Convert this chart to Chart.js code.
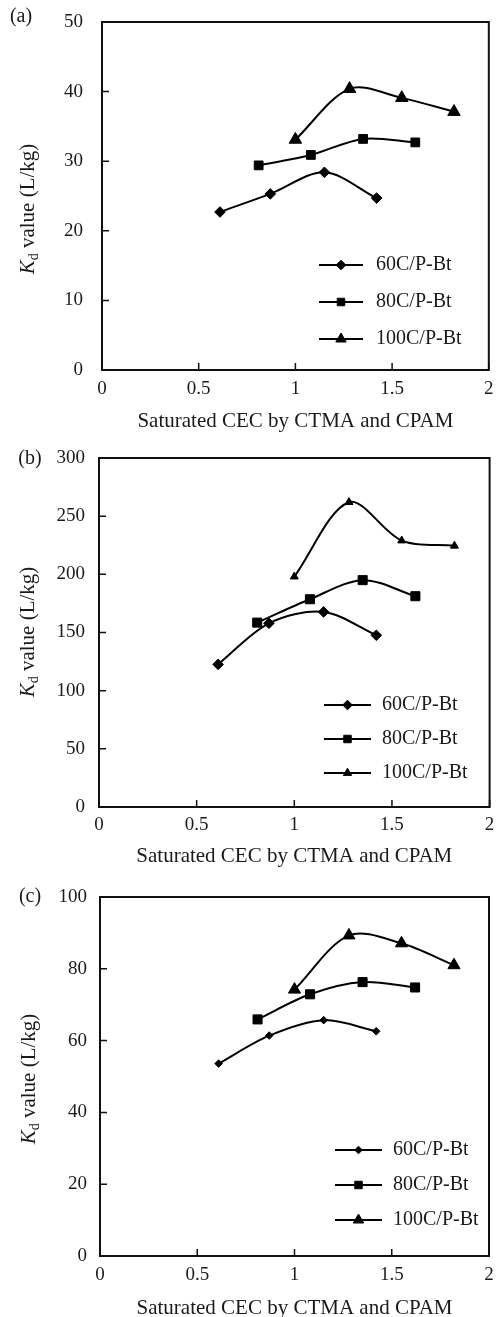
<!DOCTYPE html>
<html>
<head>
<meta charset="utf-8">
<script src="https://cdn.jsdelivr.net/npm/chart.js@4.4.1/dist/chart.umd.min.js"></script>
<style>
html,body{margin:0;padding:0;background:#fff;overflow:hidden;}
#wrap{position:relative;width:497px;height:1317px;overflow:hidden;background:#fff;}
canvas{position:absolute;left:0;}
.plab{position:absolute;font-family:'Liberation Serif','Times New Roman',serif;font-size:20px;color:#1a1a1a;white-space:nowrap;line-height:1;transform:translate(-50%,-50%);}
.ytitle{position:absolute;font-family:'Liberation Serif','Times New Roman',serif;font-size:21px;color:#1a1a1a;white-space:nowrap;line-height:1;transform:translate(-50%,-50%) rotate(-90deg);}
.ytitle sub{font-size:14px;vertical-align:-4px;line-height:0;}
</style>
</head>
<body>
<div id="wrap">
  <canvas id="ca" width="497" height="440" style="top:0px"></canvas>
  <canvas id="cb" width="497" height="440" style="top:440px"></canvas>
  <canvas id="cc" width="497" height="450" style="top:880px"></canvas>
  <div class="plab" style="left:21px;top:15px">(a)</div>
  <div class="plab" style="left:30px;top:457px">(b)</div>
  <div class="plab" style="left:30px;top:895px">(c)</div>
  <div class="ytitle" style="left:27px;top:209px"><i>K</i><sub>d</sub> value (L/kg)</div>
  <div class="ytitle" style="left:27px;top:632px"><i>K</i><sub>d</sub> value (L/kg)</div>
  <div class="ytitle" style="left:28px;top:1079px"><i>K</i><sub>d</sub> value (L/kg)</div>
</div>
<script>
// ---- data ----
const seriesNames = ['60C/P-Bt', '80C/P-Bt', '100C/P-Bt'];
const x60 = [0.61, 0.87, 1.15, 1.42];
const x80 = [0.81, 1.08, 1.35, 1.62];
const x100 = [1.00, 1.28, 1.55, 1.82];

const a60 = [22.7, 25.3, 28.4, 24.7];
const a80 = [29.4, 30.9, 33.2, 32.7];
const a100 = [33.1, 40.4, 39.1, 37.1];

const b60 = [122.6, 157.9, 167.7, 147.6];
const b80 = [158.5, 178.6, 195.0, 181.2];
const b100 = [198.0, 262.0, 229.0, 224.5];

const c60 = [53.6, 61.4, 65.7, 62.6];
const c80 = [65.9, 72.9, 76.3, 74.8];
const c100 = [74.2, 89.3, 87.1, 81.0];

const xTickValues = [0, 0.5, 1, 1.5, 2];
const xTickLabels = ['0', '0.5', '1', '1.5', '2'];
const yTicksA = [0, 10, 20, 30, 40, 50];
const yTicksB = [0, 50, 100, 150, 200, 250, 300];
const yTicksC = [0, 20, 40, 60, 80, 100];
const xTitle = 'Saturated CEC by CTMA and CPAM';

// ---- rendering ----
const FONT = "'Liberation Serif', 'Times New Roman', serif";
const TXT = '#1a1a1a';
Chart.defaults.font.family = FONT;
Chart.defaults.color = TXT;

const framePlugin = {
  id: 'frame',
  afterDraw(chart, args, o) {
    const {ctx, chartArea: a, scales: {x, y}} = chart;
    ctx.save();
    ctx.strokeStyle = '#111';
    ctx.lineWidth = 2;
    ctx.strokeRect(a.left, a.top, a.right - a.left, a.bottom - a.top);
    ctx.lineWidth = 1.5;
    ctx.beginPath();
    x.ticks.forEach(t => {
      const px = x.getPixelForValue(t.value);
      ctx.moveTo(px, a.bottom); ctx.lineTo(px, a.bottom - 7);
    });
    y.ticks.forEach(t => {
      const py = y.getPixelForValue(t.value);
      ctx.moveTo(a.left, py); ctx.lineTo(a.left + 7, py);
    });
    ctx.stroke();
    // legend
    ctx.font = '20px ' + FONT;
    ctx.textBaseline = 'middle';
    ctx.textAlign = 'left';
    chart.data.datasets.forEach((ds, i) => {
      const yy = o.rows[i];
      ctx.strokeStyle = '#000';
      ctx.fillStyle = '#000';
      ctx.lineWidth = 2;
      ctx.beginPath();
      ctx.moveTo(o.x1, yy); ctx.lineTo(o.x2, yy);
      ctx.stroke();
      ctx.lineWidth = 1;
      Chart.helpers.drawPoint(ctx, {pointStyle: ds.pointStyle, radius: o.radii[i], rotation: 0, borderWidth: 1}, (o.x1 + o.x2) / 2, yy);
      ctx.fillStyle = TXT;
      ctx.fillText(ds.label, o.tx, yy);
    });
    ctx.restore();
  }
};

function pts(xs, ys) { return xs.map((v, i) => ({x: v, y: ys[i]})); }

function makePanel(id, cfg) {
  const styles = ['rectRot', 'rect', 'triangle'];
  const xsList = [x60, x80, x100];
  const datasets = cfg.series.map((ys, i) => ({
    label: seriesNames[i],
    data: pts(xsList[i], ys),
    borderColor: '#000',
    backgroundColor: '#000',
    borderWidth: 2,
    pointStyle: styles[i],
    pointRadius: cfg.radii[i],
    pointBorderWidth: 1,
    pointBackgroundColor: '#000',
    pointBorderColor: '#000',
    tension: 0.32,
    clip: false
  }));
  new Chart(document.getElementById(id), {
    type: 'line',
    data: {datasets},
    options: {
      responsive: false,
      animation: false,
      devicePixelRatio: 1,
      layout: {padding: cfg.padding},
      plugins: {
        legend: {display: false},
        tooltip: {enabled: false},
        frame: cfg.legend
      },
      scales: {
        x: {
          type: 'linear', min: 0, max: 2,
          grid: {display: false, drawTicks: false},
          border: {display: false},
          afterBuildTicks: s => { s.ticks = xTickValues.map(v => ({value: v})); },
          afterFit: s => { s.height = cfg.xHeight; s.paddingLeft = 0; s.paddingRight = 0; },
          ticks: {
            font: {size: 19}, color: TXT, padding: cfg.xPad, maxRotation: 0, autoSkip: false,
            callback: (v, i) => xTickLabels[i]
          },
          title: {display: true, text: xTitle, font: {size: 21}, color: TXT, padding: {top: 0, bottom: cfg.titlePad}}
        },
        y: {
          min: 0, max: cfg.yTicks[cfg.yTicks.length - 1],
          grid: {display: false, drawTicks: false},
          border: {display: false},
          afterBuildTicks: s => { s.ticks = cfg.yTicks.map(v => ({value: v})); },
          afterFit: s => { s.width = cfg.yWidth; s.paddingTop = 0; s.paddingBottom = 0; },
          ticks: {font: {size: 19}, color: TXT, padding: cfg.yPad, autoSkip: false,
            callback: (v, i) => String(cfg.yTicks[i])}
        }
      }
    },
    plugins: [framePlugin]
  });
}

makePanel('ca', {
  series: [a60, a80, a100], yTicks: yTicksA,
  radii: [5.3, 6.2, 7.2],
  padding: {left: 0, right: 4, top: 22, bottom: 0},
  yWidth: 102, xHeight: 70, xPad: 8, yPad: 19, titlePad: 6,
  legend: {x1: 319, x2: 363, tx: 376, rows: [265, 302, 339], radii: [4.8, 5.3, 6]}
});
makePanel('cb', {
  series: [b60, b80, b100], yTicks: yTicksB,
  radii: [5.3, 6.4, 4.6],
  padding: {left: 0, right: 5, top: 18, bottom: 0},
  yWidth: 99, xHeight: 73, xPad: 7, yPad: 14, titlePad: 11,
  legend: {x1: 324, x2: 371, tx: 382, rows: [265, 299, 333], radii: [4.8, 5.3, 4.8]}
});
makePanel('cc', {
  series: [c60, c80, c100], yTicks: yTicksC,
  radii: [3.8, 6.4, 7.0],
  padding: {left: 0, right: 4, top: 17, bottom: 0},
  yWidth: 100, xHeight: 74, xPad: 8, yPad: 13, titlePad: 9,
  legend: {x1: 335, x2: 382, tx: 393, rows: [270, 305, 340], radii: [3.8, 5.3, 6]}
});
</script>
</body>
</html>
